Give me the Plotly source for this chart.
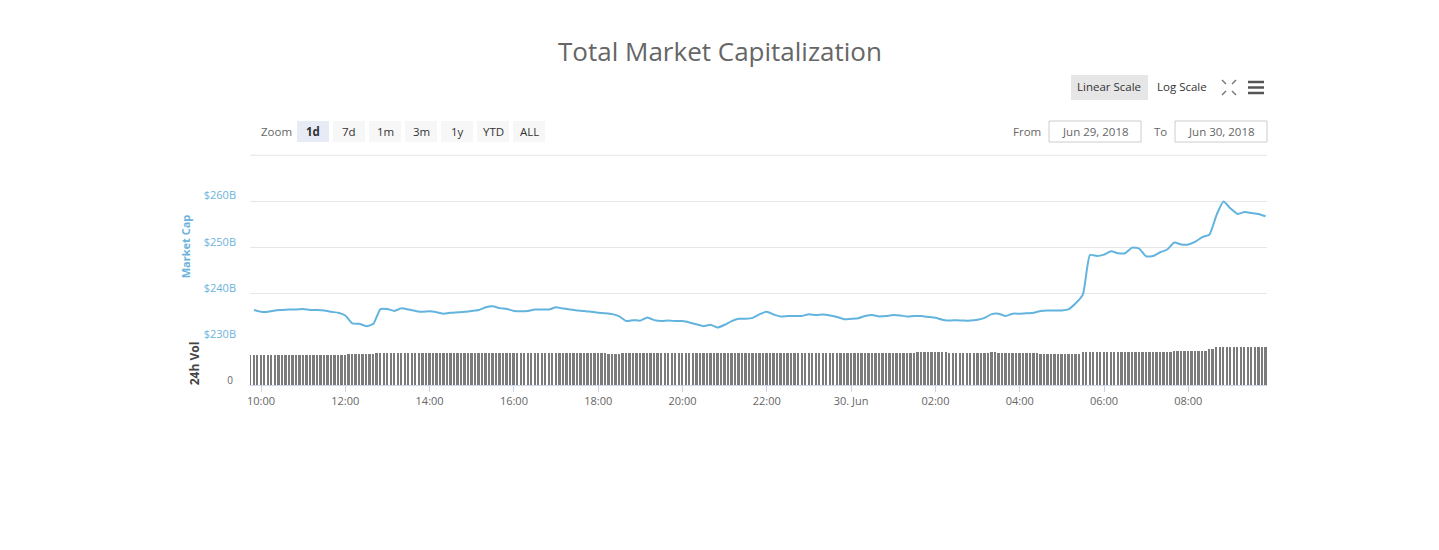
import pandas as pd
import plotly.graph_objects as go

# market cap, billions USD, every 10 minutes from Jun 29 09:50
cap_times = pd.date_range("2018-06-29 09:50", periods=145, freq="10min")
market_cap = [
    236.5, 236.1, 236.1, 236.4, 236.5, 236.6, 236.6, 236.7, 236.5, 236.5, 236.4, 236.1,
    235.9, 235.3, 233.6, 233.5, 233.0, 233.5, 236.7, 236.7, 236.3, 236.9, 236.6, 236.3,
    236.1, 236.2, 236.0, 235.7, 235.9, 236.0, 236.1, 236.3, 236.5, 237.1, 237.3, 236.9,
    236.7, 236.3, 236.2, 236.3, 236.6, 236.6, 236.6, 237.1, 236.8, 236.6, 236.4, 236.3,
    236.1, 235.9, 235.8, 235.6, 235.1, 234.1, 234.3, 234.2, 234.9, 234.3, 234.1, 234.2,
    234.1, 234.1, 233.8, 233.4, 233.0, 233.3, 232.7, 233.3, 234.1, 234.6, 234.6, 234.8,
    235.6, 236.1, 235.5, 235.1, 235.2, 235.2, 235.2, 235.6, 235.4, 235.5, 235.3, 235.0,
    234.5, 234.6, 234.7, 235.2, 235.4, 235.1, 235.2, 235.4, 235.3, 235.1, 235.2, 235.2,
    235.0, 234.8, 234.4, 234.2, 234.3, 234.2, 234.2, 234.4, 234.8, 235.6, 235.7, 235.2,
    235.7, 235.7, 235.8, 235.9, 236.3, 236.4, 236.4, 236.4, 236.7, 238.0, 239.9, 248.4,
    248.2, 248.5, 249.2, 248.8, 248.8, 250.0, 249.8, 248.1, 248.2, 249.0, 249.6, 251.1,
    250.7, 250.7, 251.3, 252.3, 252.8, 257.0, 260.0, 258.5, 257.3, 257.7, 257.5, 257.3,
    256.8,
]

# 24h volume, billions USD, every 5 minutes from Jun 29 09:45
vol_times = pd.date_range("2018-06-29 09:45", periods=290, freq="5min")
volume = [
    13.3, 13.3, 13.3, 13.3, 13.3, 13.3, 13.3, 13.3, 13.3, 13.3, 13.3, 13.3,
    13.3, 13.3, 13.3, 13.3, 13.3, 13.3, 13.3, 13.3, 13.3, 13.3, 13.3, 13.3,
    13.3, 13.3, 13.3, 13.3, 13.5, 13.5, 13.8, 13.8, 13.8, 13.8, 13.8, 13.8,
    14.2, 14.2, 14.2, 14.2, 14.2, 14.2, 14.2, 14.2, 14.2, 14.2, 14.2, 14.2,
    14.2, 14.2, 14.2, 14.2, 14.2, 14.2, 14.2, 14.2, 14.2, 14.2, 14.2, 14.2,
    14.2, 14.2, 14.2, 14.2, 14.2, 14.2, 14.2, 14.2, 14.2, 14.2, 14.2, 14.2,
    14.2, 14.2, 14.2, 14.2, 14.2, 14.2, 14.2, 14.2, 14.2, 14.2, 14.2, 14.2,
    14.2, 14.2, 14.2, 14.2, 14.2, 14.2, 14.2, 14.2, 14.2, 14.2, 14.2, 14.2,
    14.2, 14.2, 14.2, 14.2, 14.2, 14.2, 13.7, 13.7, 13.7, 13.7, 14.1, 14.1,
    14.1, 14.1, 14.1, 14.1, 14.1, 14.1, 14.1, 14.1, 14.1, 14.1, 14.1, 14.1,
    14.1, 14.1, 14.1, 14.1, 14.1, 14.1, 14.1, 14.1, 14.1, 14.1, 14.1, 14.1,
    14.1, 14.1, 14.1, 14.1, 14.1, 14.1, 14.1, 14.1, 14.1, 14.1, 14.1, 14.1,
    14.1, 14.1, 14.1, 14.1, 14.1, 14.1, 14.1, 14.1, 14.1, 14.1, 14.1, 14.1,
    14.1, 14.1, 14.1, 14.1, 14.1, 14.1, 14.1, 14.1, 14.1, 14.1, 14.1, 14.1,
    14.1, 14.1, 14.1, 14.1, 14.1, 14.1, 14.1, 14.1, 14.1, 14.1, 14.1, 14.1,
    14.1, 14.1, 14.1, 14.1, 14.1, 14.1, 14.1, 14.1, 14.1, 14.1, 14.5, 14.5,
    14.5, 14.5, 14.5, 14.5, 14.5, 14.5, 14.5, 14.1, 14.1, 14.1, 14.1, 14.1,
    14.1, 14.1, 14.1, 14.1, 14.1, 14.1, 14.1, 14.5, 14.5, 14.1, 14.1, 14.1,
    14.1, 14.1, 14.1, 14.1, 14.1, 14.1, 14.1, 14.1, 14.1, 13.8, 13.8, 13.8,
    13.8, 13.8, 13.8, 13.8, 13.8, 13.8, 13.8, 13.8, 13.8, 14.4, 14.4, 14.4,
    14.4, 14.4, 14.4, 14.4, 14.8, 14.8, 14.8, 14.8, 14.8, 14.8, 14.8, 14.8,
    14.8, 14.8, 14.8, 14.8, 14.8, 14.8, 14.8, 14.8, 14.8, 14.8, 14.8, 15.2,
    15.2, 15.2, 15.2, 15.2, 15.2, 15.2, 15.2, 15.2, 15.2, 15.8, 15.8, 16.7,
    16.7, 16.7, 16.7, 16.7, 16.7, 16.7, 16.7, 16.7, 16.7, 16.7, 17.0, 17.0,
    17.0, 17.0,
]

cap_ticks = [230, 240, 250, 260]
cap_labels = ["$230B", "$240B", "$250B", "$260B"]
x_ticks = pd.date_range("2018-06-29 10:00", periods=12, freq="2h")
x_labels = ["10:00", "12:00", "14:00", "16:00", "18:00", "20:00",
            "22:00", "30. Jun", "02:00", "04:00", "06:00", "08:00"]
zoom_buttons = ["1d", "7d", "1m", "3m", "1y", "YTD", "ALL"]

# page offset of the plot div (body margin) and plot area in page pixels
OFF = 8
L, R, T, B = 250, 1267, 153, 385
W, H = 1439, 550


def px(x):
    return (x - L) / (R - L)


def py(y):
    return (B - y) / (B - T)


FONT = "Open Sans, DejaVu Sans, sans-serif"
BLUE = "#62b4de"

fig = go.Figure()
fig.add_trace(go.Scatter(
    x=cap_times, y=market_cap, mode="lines",
    line=dict(color=BLUE, width=2, shape="spline", smoothing=0.5),
    xaxis="x", yaxis="y", name="Market Cap",
))
fig.add_trace(go.Bar(
    x=vol_times, y=volume, width=160000,
    marker=dict(color="#7b7b7b", line=dict(width=0)),
    xaxis="x", yaxis="y2", name="24h Vol",
))

shapes = [
    # top line of the price pane
    dict(type="line", xref="paper", yref="y", x0=0, x1=1, y0=270, y1=270,
         line=dict(color="#e6e6e6", width=1)),
    # date inputs
    dict(type="rect", xref="paper", yref="paper", x0=px(1049), x1=px(1141),
         y0=py(121), y1=py(142), line=dict(color="#cccccc", width=1)),
    dict(type="rect", xref="paper", yref="paper", x0=px(1175), x1=px(1267),
         y0=py(121), y1=py(142), line=dict(color="#cccccc", width=1)),
    # linear scale button
    dict(type="rect", xref="paper", yref="paper", x0=px(1071), x1=px(1148),
         y0=py(75), y1=py(100), fillcolor="#e6e6e6", line=dict(width=0)),
]
# menu icon
for yy in [82, 87.5, 93]:
    shapes.append(dict(type="line", xref="paper", yref="paper",
                       x0=px(1248), x1=px(1264), y0=py(yy), y1=py(yy),
                       line=dict(color="#555555", width=2.5)))
# fullscreen icon
for (xa, ya, xb, yb) in [(1222, 80, 1226, 84), (1236, 80, 1232, 84),
                         (1222, 95, 1226, 91), (1236, 95, 1232, 91)]:
    shapes.append(dict(type="line", xref="paper", yref="paper",
                       x0=px(xa), x1=px(xb), y0=py(ya), y1=py(yb),
                       line=dict(color="#777777", width=1.5)))

annotations = [
    dict(text="Zoom", x=px(276), y=py(131)),
    dict(text="From", x=px(1027), y=py(131)),
    dict(text="To", x=px(1160), y=py(131)),
    dict(text="Jun 29, 2018", x=px(1095), y=py(131)),
    dict(text="Jun 30, 2018", x=px(1221), y=py(131)),
    dict(text="Linear Scale", x=px(1109), y=py(87), font=dict(color="#333333")),
    dict(text="Log Scale", x=px(1182), y=py(87), font=dict(color="#333333")),
]
for i, label in enumerate(zoom_buttons):
    x0 = 297 + i * 36
    shapes.append(dict(type="rect", xref="paper", yref="paper",
                       x0=px(x0), x1=px(x0 + 32), y0=py(121), y1=py(142),
                       fillcolor="#e6ebf5" if i == 0 else "#f7f7f7",
                       line=dict(width=0)))
    annotations.append(dict(text="<b>%s</b>" % label if i == 0 else label,
                            x=px(x0 + 16), y=py(131),
                            font=dict(color="#333333")))
for a in annotations:
    a.update(xref="paper", yref="paper", showarrow=False,
             xanchor="center", yanchor="middle")
    f = dict(family=FONT, size=11.5, color="#666666")
    f.update(a.get("font", {}))
    a["font"] = f

fig.update_layout(
    width=W, height=H,
    margin=dict(l=L - OFF, r=W - R + OFF, t=T - OFF, b=H - B + OFF),
    paper_bgcolor="white", plot_bgcolor="white",
    showlegend=False, bargap=0,
    title=dict(text="Total Market Capitalization", x=(720 - OFF) / W, xanchor="center",
               y=1 - (52 - OFF) / H, yanchor="middle",
               font=dict(family=FONT, size=26, color="#666666")),
    xaxis=dict(
        type="date", anchor="y2",
        range=["2018-06-29 09:44:20", "2018-06-30 09:52"],
        tickvals=x_ticks, ticktext=x_labels,
        ticks="outside", ticklen=6, tickcolor="#ccd6eb",
        showline=True, linecolor="#ccd6eb", showgrid=False, zeroline=False,
        tickfont=dict(family=FONT, size=11, color="#666666"),
    ),
    yaxis=dict(
        domain=[py(340), 1], range=[230, 270.5],
        tickvals=cap_ticks, ticktext=cap_labels,
        gridcolor="#e6e6e6", zeroline=False, ticklabelshift=-6,
        ticklabelstandoff=13,
        tickfont=dict(family=FONT, size=11, color="#6cb3dc"),
        title=dict(text="<b>Market Cap</b>", standoff=10,
                   font=dict(family=FONT, size=11, color="#6cb3dc")),
    ),
    yaxis2=dict(
        domain=[0, py(342)], range=[0, 19],
        tickvals=[0], ticktext=["0"], showgrid=False, zeroline=False,
        ticklabelshift=-5, ticklabelstandoff=16,
        tickfont=dict(family=FONT, size=10, color="#666666"),
        title=dict(text="<b>24h Vol</b>", standoff=25,
                   font=dict(family=FONT, size=12, color="#444444")),
    ),
    shapes=shapes,
    annotations=annotations,
)

fig.write_html("out.html")
